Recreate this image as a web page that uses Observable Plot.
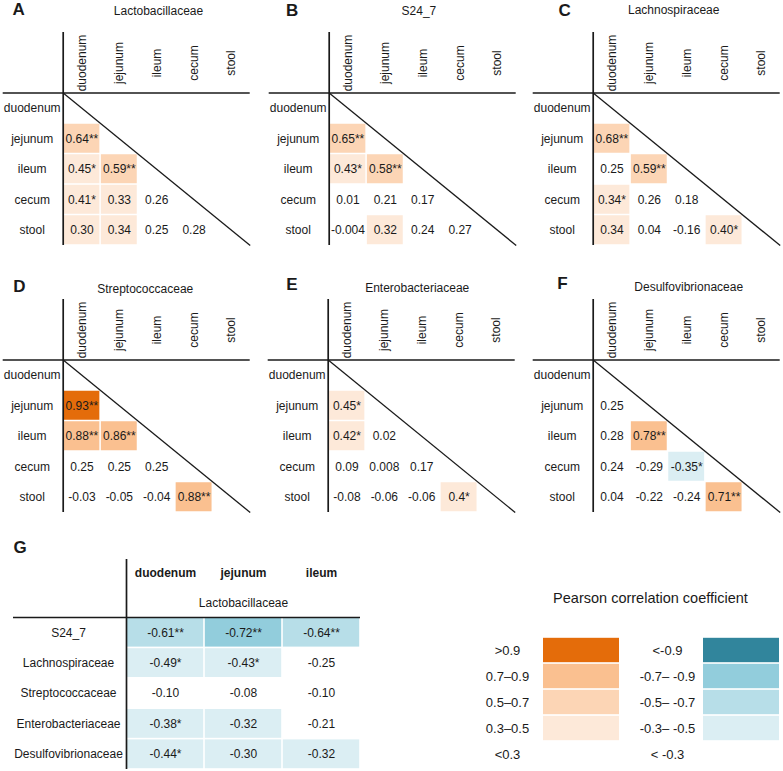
<!DOCTYPE html>
<html><head><meta charset="utf-8">
<script src="https://cdn.jsdelivr.net/npm/d3@7"></script>
<script src="https://cdn.jsdelivr.net/npm/@observablehq/plot@0.6"></script>
<style>
body{margin:0;background:#fff;}
#fig{position:relative;width:783px;height:771px;overflow:hidden;background:#fff;}
#fig > div{position:absolute;}
#fig svg{max-width:none !important;display:block;}
</style></head><body><div id="fig"></div>
<script>
// ---- data ----
const sites = ["duodenum","jejunum","ileum","cecum","stool"];
// lower triangle, rows jejunum..stool, columns duodenum..
const lactobacillaceae = [["0.64**"],["0.45*","0.59**"],["0.41*","0.33","0.26"],["0.30","0.34","0.25","0.28"]];
const s24_7 = [["0.65**"],["0.43*","0.58**"],["0.01","0.21","0.17"],["-0.004","0.32","0.24","0.27"]];
const lachnospiraceae = [["0.68**"],["0.25","0.59**"],["0.34*","0.26","0.18"],["0.34","0.04","-0.16","0.40*"]];
const streptococcaceae = [["0.93**"],["0.88**","0.86**"],["0.25","0.25","0.25"],["-0.03","-0.05","-0.04","0.88**"]];
const enterobacteriaceae = [["0.45*"],["0.42*","0.02"],["0.09","0.008","0.17"],["-0.08","-0.06","-0.06","0.4*"]];
const desulfovibrionaceae = [["0.25"],["0.28","0.78**"],["0.24","-0.29","-0.35*"],["0.04","-0.22","-0.24","0.71**"]];

const gRows = ["S24_7","Lachnospiraceae","Streptococcaceae","Enterobacteriaceae","Desulfovibrionaceae"];
const gCols = ["duodenum","jejunum","ileum"];
const gTitle = "Lactobacillaceae";
const gLabels = [["-0.61**","-0.72**","-0.64**"],["-0.49*","-0.43*","-0.25"],["-0.10","-0.08","-0.10"],["-0.38*","-0.32","-0.21"],["-0.44*","-0.30","-0.32"]];

const legendTitle = "Pearson correlation coefficient";
const posBins = [">0.9","0.7\u20130.9","0.5\u20130.7","0.3\u20130.5","<0.3"];
const negBins = ["<-0.9","-0.7\u2013 -0.9","-0.5\u2013 -0.7","-0.3\u2013 -0.5","< -0.3"];
const binEdges = [0.9,0.7,0.5,0.3];
const posColors = ["#e46c0a","#fac090","#fcd5b5","#fde9d9"];
const negColors = ["#31859c","#92cddc","#b7dee8","#dbeef3"];

// ---- helpers ----
const FONT = "'Liberation Sans', Arial, sans-serif";
const INK = "#1a1a1a";
function binOf(v){
  const a = Math.abs(v);
  const k = binEdges.findIndex(e => a >= e);
  if (k < 0) return null;
  return (v > 0 ? posBins : negBins)[k];
}
const colorScale = {type:"ordinal", domain:[...posBins.slice(0,4), ...negBins.slice(0,4)], range:[...posColors, ...negColors]};
const baseStyle = {fontFamily: FONT, fontSize: "12px", color: INK, background: "transparent", overflow: "visible", maxWidth: "none"};

const fig = document.getElementById("fig");
function place(el, left, top, w){
  const d = document.createElement("div");
  d.style.left = left + "px"; d.style.top = top + "px"; d.style.width = w + "px";
  d.appendChild(el); fig.appendChild(d);
}

const PW = 253;
function corrPanel(cfg){
  const n = sites.length;
  const cells = cfg.data.flatMap((row,i)=>row.map((label,j)=>({r:i+1, c:j, label, v:parseFloat(label)})));
  return Plot.plot({
    width: PW, height: 250, marginLeft: 62.7, marginTop: 92.5, marginRight: PW - 62.7 - 187, marginBottom: 5,
    x: {domain:[0,n], axis:null},
    y: {domain:[0,n], reverse:true, axis:null},
    color: colorScale,
    style: baseStyle,
    marks: [
      Plot.rect(cells.filter(d=>binOf(d.v)), {x1:"c", x2:d=>d.c+1, y1:"r", y2:d=>d.r+1, fill:d=>binOf(d.v), inset:0.75}),
      Plot.text(cells, {x:d=>d.c+0.5, y:d=>d.r+0.5, text:"label", fontSize:12}),
      Plot.text(sites, {x:(d,i)=>i+0.5, frameAnchor:"top", dy:-30, rotate:-90, textAnchor:"middle", lineAnchor:"middle", fontSize:12}),
      Plot.text(sites, {y:(d,i)=>i+0.5, frameAnchor:"left", dx:-31, textAnchor:"middle", lineAnchor:"middle", fontSize:12}),
      Plot.ruleX([0], {insetTop:-60.5, strokeWidth:1.7}),
      Plot.ruleY([0], {insetLeft:-60, strokeWidth:1.7}),
      Plot.link([n], {x1:0, y1:0, x2:d=>d, y2:d=>d, strokeWidth:1.3}),
      Plot.text([cfg.letter], {frameAnchor:"top-left", dx:cfg.ldx, dy:cfg.ldy, textAnchor:"start", lineAnchor:"middle", fontSize:17, fontWeight:"bold"}),
      Plot.text([cfg.title], {frameAnchor:"top", dx:cfg.tdx, dy:cfg.tdy, textAnchor:"middle", lineAnchor:"middle", fontSize:12})
    ]
  });
}

const panels = [
  {letter:"A", title:"Lactobacillaceae", data:lactobacillaceae, left:0, top:0, ldx:-50.7, ldy:-83.5, tdx:1.8, tdy:-81.5},
  {letter:"B", title:"S24_7", data:s24_7, left:265.6, top:0, ldx:-43.3, ldy:-82.5, tdx:-3.8, tdy:-81.5},
  {letter:"C", title:"Lachnospiraceae", data:lachnospiraceae, left:530, top:0, ldx:-34.7, ldy:-82.5, tdx:-13, tdy:-82.5},
  {letter:"D", title:"Streptococcaceae", data:streptococcaceae, left:0.3, top:266.5, ldx:-50, ldy:-73, tdx:-11.5, tdy:-71},
  {letter:"E", title:"Enterobacteriaceae", data:enterobacteriaceae, left:265.3, top:266.5, ldx:-42, ldy:-75, tdx:-4.5, tdy:-72},
  {letter:"F", title:"Desulfovibrionaceae", data:desulfovibrionaceae, left:530.3, top:266.5, ldx:-36, ldy:-76.5, tdx:2, tdy:-73}
];
for (const p of panels) place(corrPanel(p), p.left, p.top, PW);

// ---- panel G ----
{
  const cells = gLabels.flatMap((row,i)=>row.map((label,j)=>({r:i, c:j, label, v:parseFloat(label)})));
  const g = Plot.plot({
    width: 370, height: 251, marginLeft: 126, marginTop: 97, marginRight: 10, marginBottom: 2,
    x: {domain:[0,gCols.length], axis:null},
    y: {domain:[0,gRows.length], reverse:true, axis:null},
    color: colorScale,
    style: baseStyle,
    marks: [
      Plot.rect(cells.filter(d=>binOf(d.v)), {x1:"c", x2:d=>d.c+1, y1:"r", y2:d=>d.r+1, fill:d=>binOf(d.v), inset:0.8}),
      Plot.text(cells, {x:d=>d.c+0.5, y:d=>d.r+0.5, text:"label", fontSize:12}),
      Plot.text(gCols, {x:(d,i)=>i+0.5, frameAnchor:"top", dy:-44, textAnchor:"middle", lineAnchor:"middle", fontSize:12, fontWeight:"bold"}),
      Plot.text([gTitle], {frameAnchor:"top", dy:-14, textAnchor:"middle", lineAnchor:"middle", fontSize:12}),
      Plot.text(gRows, {y:(d,i)=>i+0.5, frameAnchor:"left", dx:-58, textAnchor:"middle", lineAnchor:"middle", fontSize:12}),
      Plot.ruleX([0], {insetTop:-58, strokeWidth:1.7}),
      Plot.ruleY([0], {insetLeft:-113, strokeWidth:1.7}),
      Plot.text(["G"], {frameAnchor:"top-left", dx:-113, dy:-70, textAnchor:"start", lineAnchor:"middle", fontSize:17, fontWeight:"bold"})
    ]
  });
  place(g, 0, 520, 370);
}

// ---- legend ----
{
  const rows = [
    ...posBins.map((label,i)=>({sign:"pos", i, label, bin: i<4 ? label : null})),
    ...negBins.map((label,i)=>({sign:"neg", i, label, bin: i<4 ? label : null}))
  ];
  const lg = Plot.plot({
    width: 363, height: 191, marginLeft: 46, marginRight: 3, marginTop: 55, marginBottom: 3,
    x: {type:"band", domain:["pos","neg"], paddingInner:0.0375, paddingOuter:0, axis:null},
    y: {type:"band", domain:[0,1,2,3,4], padding:0, axis:null},
    color: colorScale,
    style: baseStyle,
    marks: [
      Plot.cell(rows.filter(d=>d.bin), {x:"sign", y:"i", fill:"bin", insetLeft:77, insetRight:1, insetTop:0.8, insetBottom:0.8}),
      Plot.text(rows, {x:"sign", y:"i", text:"label", dx:-36, fontSize:13}),
      Plot.text([legendTitle], {frameAnchor:"top", dx:27, dy:-37, textAnchor:"middle", lineAnchor:"middle", fontSize:14.5})
    ]
  });
  place(lg, 420, 580, 363);
}
</script></body></html>
